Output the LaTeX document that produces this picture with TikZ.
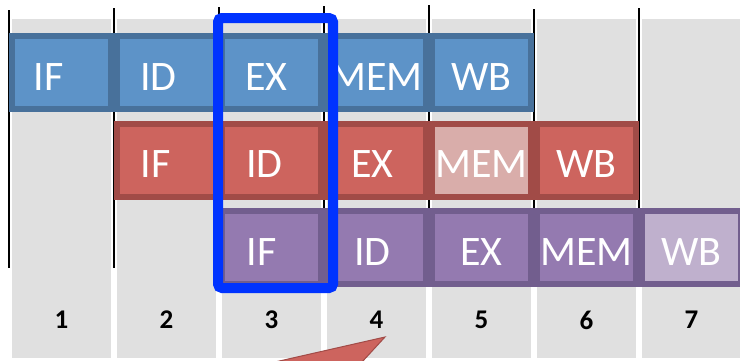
\documentclass[tikz,border=0pt]{standalone}
\usepackage{fontspec}
\setmainfont{Carlito}
\usepackage{tikz}

\definecolor{colgray}{RGB}{224,224,224}
\definecolor{blfill}{RGB}{93,147,200}
\definecolor{bledge}{RGB}{72,113,155}
\definecolor{rdfill}{RGB}{205,100,94}
\definecolor{rdedge}{RGB}{161,75,71}
\definecolor{rdpale}{RGB}{217,173,170}
\definecolor{pufill}{RGB}{148,122,176}
\definecolor{puedge}{RGB}{114,94,142}
\definecolor{pupale}{RGB}{191,176,205}
\definecolor{hiblue}{RGB}{0,51,255}

\tikzset{
  stage/.style={draw, line width=6pt, minimum width=99pt, minimum height=73pt,
    inner sep=0pt, text height=35pt, text depth=0pt, text=white,
    font=\fontsize{42}{42}\selectfont},
  blue stage/.style={stage, fill=blfill, draw=bledge},
  red stage/.style={stage, fill=rdfill, draw=rdedge},
  purple stage/.style={stage, fill=pufill, draw=puedge},
  nudge/.style={execute at begin node={\kern-#1\kern-#1}},
  cycle num/.style={font=\fontsize{27}{27}\selectfont\bfseries}
}

\begin{document}
\begin{tikzpicture}[x=1pt, y=-1pt]

\clip (0,0) rectangle (740,360);

% clock cycle columns
\fill[colgray] (12,19) rectangle (111,358);
\fill[colgray] (117,19) rectangle (216,358);
\fill[colgray] (222,19) rectangle (321,358);
\fill[colgray] (327,19) rectangle (426,358);
\fill[colgray] (432,19) rectangle (531,358);
\fill[colgray] (537,19) rectangle (636,358);
\fill[colgray] (642,19) rectangle (750,358);

% cycle boundaries
\draw[line width=2pt] (9,10) -- (9,268);
\draw[line width=2pt] (114,8) -- (114,268);
\draw[line width=2pt] (219,7) -- (219,268);
\draw[line width=2pt] (324,6) -- (324,268);
\draw[line width=2pt] (429,5) -- (429,268);
\draw[line width=2pt] (534,9) -- (534,268);
\draw[line width=2pt] (639,8) -- (639,268);

% instruction 1
\node[blue stage, nudge=13pt] (aif) at (61.5,72.5) {IF};
\node[blue stage, nudge=8pt] (aid) at (166.5,72.5) {ID};
\node[blue stage, nudge=5pt] (aex) at (271.5,72.5) {EX};
\node[blue stage] (amem) at (376.5,72.5) {MEM};
\node[blue stage] (awb) at (481.5,72.5) {WB};

% instruction 2
\node[red stage, nudge=11pt] (bif) at (166.5,160) {IF};
\node[red stage, nudge=7pt] (bid) at (271.5,160) {ID};
\node[red stage, nudge=4pt] (bex) at (376.5,160) {EX};
\node[red stage, fill=rdpale] (bmem) at (481.5,160) {MEM};
\node[red stage] (bwb) at (586.5,160) {WB};

% instruction 3
\node[purple stage, nudge=10pt] (cif) at (271.5,247.5) {IF};
\node[purple stage, nudge=4pt] (cid) at (376.5,247.5) {ID};
\node[purple stage] (cex) at (481.5,247.5) {EX};
\node[purple stage] (cmem) at (586.5,247.5) {MEM};
\node[purple stage, fill=pupale] (cwb) at (691.5,247.5) {WB};

% highlighted cycle
\draw[hiblue, line width=10pt, rounded corners=4pt] (218,18) rectangle (333,288);

% cycle numbers
\node[cycle num] (n1) at (61.5,320) {1};
\node[cycle num] (n2) at (166.5,320) {2};
\node[cycle num] (n3) at (271.5,320) {3};
\node[cycle num] (n4) at (376.5,320) {4};
\node[cycle num] (n5) at (481.5,320) {5};
\node[cycle num] (n6) at (586.5,320) {6};
\node[cycle num] (n7) at (691.5,320) {7};

% pointer
\coordinate (tip) at (385,337);
\filldraw[fill=rdfill, draw=rdedge, line width=1pt] (275,362) -- (tip) -- (362,362) -- cycle;

\end{tikzpicture}
\end{document}
